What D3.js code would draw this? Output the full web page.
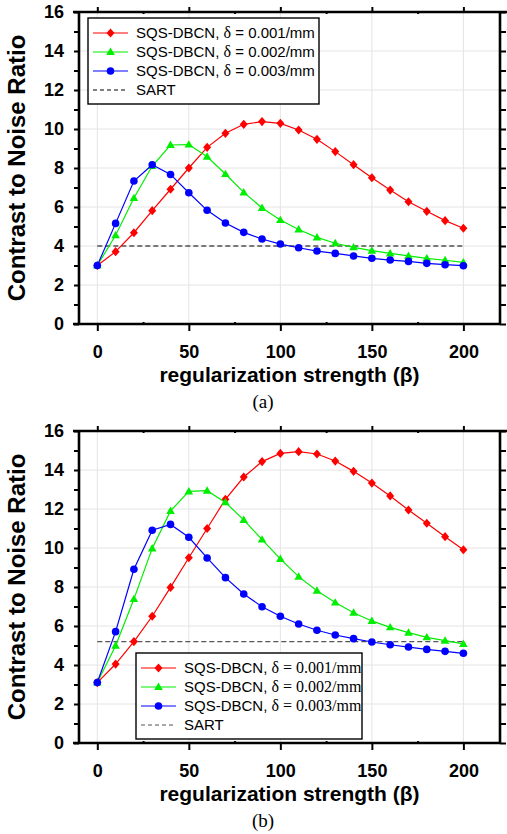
<!DOCTYPE html>
<html>
<head>
<meta charset="utf-8">
<script src="https://cdnjs.cloudflare.com/ajax/libs/d3/7.8.5/d3.min.js"></script>
<style>
  body { margin: 0; background: #fff; }
  svg { display: block; font-family: "Liberation Sans", Arial, sans-serif; }
</style>
</head>
<body>
<svg id="chart" width="507" height="834"></svg>
<script>
// regularization strength (beta) values, same for every series
var beta = [0, 10, 20, 30, 40, 50, 60, 70, 80, 90, 100, 110, 120, 130, 140, 150, 160, 170, 180, 190, 200];

// panel (a)
var redA   = [3.0, 3.71, 4.68, 5.81, 6.91, 8.0, 9.06, 9.78, 10.24, 10.38, 10.29, 9.95, 9.47, 8.84, 8.17, 7.50, 6.87, 6.27, 5.78, 5.30, 4.91];
var greenA = [3.0, 4.55, 6.46, 8.1, 9.18, 9.2, 8.58, 7.69, 6.75, 5.95, 5.33, 4.85, 4.44, 4.14, 3.93, 3.76, 3.62, 3.49, 3.37, 3.27, 3.16];
var blueA  = [3.0, 5.16, 7.33, 8.17, 7.67, 6.73, 5.83, 5.18, 4.70, 4.36, 4.10, 3.91, 3.74, 3.62, 3.49, 3.37, 3.28, 3.21, 3.11, 3.04, 2.99];
var sartA  = 4.0;

// panel (b)
var redB   = [3.1, 4.05, 5.2, 6.5, 7.98, 9.5, 11.0, 12.5, 13.64, 14.43, 14.85, 14.94, 14.82, 14.46, 13.93, 13.33, 12.67, 11.95, 11.27, 10.58, 9.91];
var greenB = [3.1, 4.99, 7.38, 9.98, 11.9, 12.9, 12.94, 12.34, 11.44, 10.43, 9.44, 8.53, 7.81, 7.2, 6.68, 6.26, 5.93, 5.66, 5.42, 5.25, 5.08];
var blueB  = [3.1, 5.71, 8.91, 10.91, 11.21, 10.55, 9.49, 8.48, 7.64, 6.99, 6.5, 6.1, 5.78, 5.54, 5.35, 5.18, 5.04, 4.92, 4.8, 4.70, 4.6];
var sartB  = 5.2;

var legendLabels = ["SQS-DBCN, δ = 0.001/mm", "SQS-DBCN, δ = 0.002/mm", "SQS-DBCN, δ = 0.003/mm", "SART"];
var xTickLabels = [0, 50, 100, 150, 200];
var xMinor = [25, 75, 125, 175];
var yTickLabels = [0, 2, 4, 6, 8, 10, 12, 14, 16];
var yMinor = [1, 3, 5, 7, 9, 11, 13, 15];
var colors = ["#ff0000", "#00ee00", "#0000ff"];
var shapes = ["diamond", "triangle", "circle"];

var svg = d3.select("#chart");
var L = 79, W = 421, H = 312;

var x = d3.scaleLinear().domain([-10, 220]).range([0, W]);
var y = d3.scaleLinear().domain([0, 16]).range([H, 0]);

function marker(sel, shape, color) {
    if (shape === "circle") {
        sel.append("circle").attr("r", 3.8).attr("fill", color);
    } else if (shape === "diamond") {
        sel.append("path").attr("d", "M0,-4.6L4,0L0,4.6L-4,0Z").attr("fill", color);
    } else {
        sel.append("path").attr("d", "M0,-4.4L4.3,3L-4.3,3Z").attr("fill", color);
    }
}

function panel(top, series, sart, sartColor, leg, caption, serifValue) {
    var g = svg.append("g").attr("transform", "translate(" + L + "," + top + ")");

    // grid
    g.selectAll(".gx").data(xTickLabels).enter().append("line")
        .attr("x1", d => x(d)).attr("x2", d => x(d)).attr("y1", 0).attr("y2", H)
        .attr("stroke", "#e4e4e4").attr("stroke-width", 1);
    g.selectAll(".gy").data(yTickLabels.slice(1, -1)).enter().append("line")
        .attr("x1", 0).attr("x2", W).attr("y1", d => y(d)).attr("y2", d => y(d))
        .attr("stroke", "#e4e4e4").attr("stroke-width", 1);

    // SART reference line
    g.append("line")
        .attr("x1", x(0)).attr("x2", x(200)).attr("y1", y(sart)).attr("y2", y(sart))
        .attr("stroke", sartColor).attr("stroke-width", 1.2).attr("stroke-dasharray", "5,3");

    var line = d3.line().x((d, i) => x(beta[i])).y(d => y(d));
    series.forEach(function(s, k) {
        g.append("path").datum(s).attr("d", line)
            .attr("fill", "none").attr("stroke", colors[k]).attr("stroke-width", 1.2);
        var pts = g.selectAll(".p" + k).data(s).enter().append("g")
            .attr("transform", (d, i) => "translate(" + x(beta[i]) + "," + y(d) + ")");
        marker(pts, shapes[k], colors[k]);
    });

    // axes
    var ax = g.append("g").attr("class", "axes");
    ax.append("g").call(d3.axisLeft(y).tickValues(yTickLabels.concat(yMinor)).tickSize(5).tickPadding(10)
        .tickFormat(d => d % 2 ? "" : d));
    ax.append("g").attr("transform", "translate(" + W + ",0)")
        .call(d3.axisRight(y).tickValues(yTickLabels.concat(yMinor)).tickSize(6).tickFormat(""));
    ax.append("g").attr("transform", "translate(0," + H + ")")
        .call(d3.axisBottom(x).tickValues(xTickLabels).tickSize(7).tickPadding(14));
    ax.append("g").attr("transform", "translate(0," + H + ")")
        .call(d3.axisBottom(x).tickValues(xMinor).tickSize(-2).tickFormat(""));
    ax.append("g").call(d3.axisTop(x).tickValues(xTickLabels).tickSize(5).tickFormat(""));
    ax.append("g").call(d3.axisTop(x).tickValues(xMinor).tickSize(-2).tickFormat(""));
    ax.selectAll(".domain").remove();
    ax.selectAll(".tick line").attr("stroke", "#000").attr("stroke-width", 2);
    ax.selectAll(".tick text").attr("font-size", 18).attr("font-weight", "bold")
        .attr("font-family", "'Liberation Sans', Arial, sans-serif").attr("fill", "#000");

    // frame lines
    var frame = [[0, -1, 0, H + 1], [W, 0, W, H + 1], [-6, 0, W + 7, 0], [-6, H, W, H]];
    ax.selectAll(".fr").data(frame).enter().append("line")
        .attr("x1", d => d[0]).attr("y1", d => d[1]).attr("x2", d => d[2]).attr("y2", d => d[3])
        .attr("stroke", "#000").attr("stroke-width", 2.6);

    // titles
    g.append("text").attr("x", W / 2).attr("y", H + 58).attr("text-anchor", "middle")
        .attr("font-size", 21).attr("font-weight", "bold").text("regularization strength (β)");
    g.append("text").attr("transform", "translate(" + (-54) + "," + (H / 2) + ") rotate(-90)")
        .attr("text-anchor", "middle").attr("font-size", 24).attr("font-weight", "bold")
        .text("Contrast to Noise Ratio");
    g.append("text").attr("x", 184).attr("y", H + 84).attr("text-anchor", "middle")
        .attr("font-family", "'Liberation Serif', 'Times New Roman', serif").attr("font-size", 19)
        .text(caption);

    // legend
    var lg = g.append("g").attr("transform", "translate(" + leg[0] + "," + leg[1] + ")");
    lg.append("rect").attr("width", leg[2]).attr("height", 86)
        .attr("fill", "#fff").attr("stroke", "#000").attr("stroke-width", 1.4);
    legendLabels.forEach(function(lab, k) {
        var ry = 15 + k * 19;
        var row = lg.append("g").attr("transform", "translate(0," + ry + ")");
        if (k < 3) {
            row.append("line").attr("x1", 5).attr("x2", 40).attr("stroke", colors[k]).attr("stroke-width", 1.2);
            marker(row.append("g").attr("transform", "translate(22.5,0)"), shapes[k], colors[k]);
            var parts = lab.split("δ");
            var t = row.append("text").attr("x", 48).attr("dy", "0.35em").attr("font-size", 15);
            t.append("tspan").text(parts[0]);
            t.append("tspan").attr("font-family", "'Liberation Serif', serif").attr("font-size", 16).text("δ");
            t.append("tspan").attr("font-family", serifValue ? "'Liberation Serif', serif" : null)
                .attr("font-size", serifValue ? 16 : 15).text(parts[1]);
        } else {
            row.append("line").attr("x1", 5).attr("x2", 40).attr("stroke", sartColor)
                .attr("stroke-width", 1.2).attr("stroke-dasharray", "4,3");
            row.append("text").attr("x", 48).attr("dy", "0.35em").attr("font-size", 15).text(lab);
        }
    });
}

panel(12, [redA, greenA, blueA], sartA, "#000", [9, 6, 231], "(a)", false);
panel(431, [redB, greenB, blueB], sartB, "#555", [57, 222, 226], "(b)", true);
</script>
</body>
</html>
